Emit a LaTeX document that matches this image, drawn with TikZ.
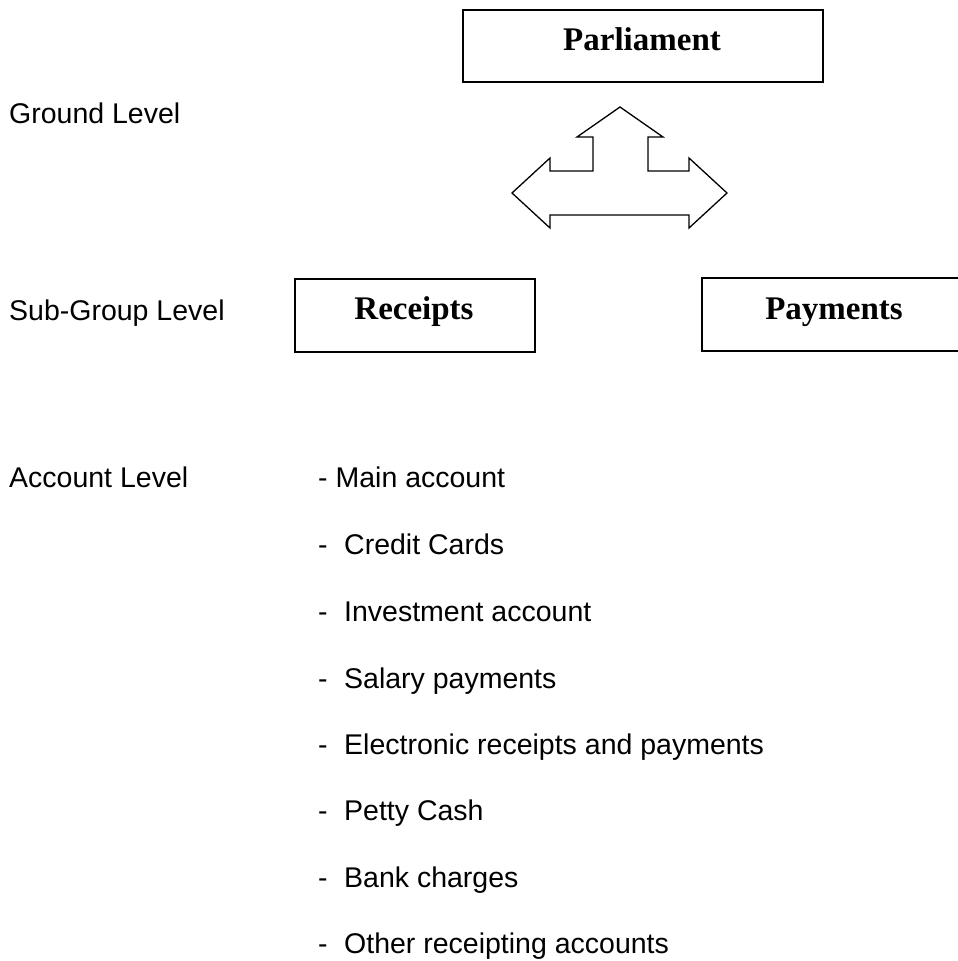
\documentclass[tikz,border=0pt]{standalone}
\usepackage{fontspec}
\setmainfont{Liberation Serif}
\newfontfamily\arialf{Liberation Sans}
\begin{document}
\begin{tikzpicture}[x=1pt,y=-1pt,
  lvl/.style={anchor=base west,inner sep=0pt,font=\arialf\fontsize{28.5}{34}\selectfont},
  item/.style={anchor=base west,inner sep=0pt,font=\arialf\fontsize{28.5}{34}\selectfont},
  boxline/.style={draw=black,line width=1.6pt},
  boxtext/.style={anchor=base,inner sep=0pt,font=\bfseries\fontsize{33}{38}\selectfont},
  arrowshape/.style={draw=black,line width=1.3pt,fill=white,line join=miter}]
\useasboundingbox (0,0) rectangle (958,961);
% boxes
\node[boxline,minimum width=360pt,minimum height=72pt,inner sep=0pt,anchor=north west] (parlbox) at (462,9) {};
\node[boxtext] (parl) at (642,50) {Parliament};
\node[boxline,minimum width=240pt,minimum height=73pt,inner sep=0pt,anchor=north west] (recbox) at (294,278) {};
\node[boxtext] (rec) at (414,319) {Receipts};
\draw[boxline] (958,278) -- (702,278) -- (702,351) -- (958,351);
\node[boxtext] (pay) at (834,319) {Payments};
% three-way arrow
\draw[arrowshape] (620,107) -- (663,137) -- (648,137) -- (648,171) -- (689,171) -- (689,158)
  -- (727,193) -- (689,228) -- (689,215) -- (550,215) -- (550,228) -- (512,193)
  -- (550,158) -- (550,171) -- (593,171) -- (593,137) -- (577,137) -- cycle;
% level labels
\node[lvl] (ground) at (9,123) {Ground Level};
\node[lvl] (subgroup) at (9,320) {Sub-Group Level};
\node[lvl] (account) at (9,487) {Account Level};
% account list
\node[item] (i1) at (318,487) {- Main account};
\foreach \y/\t [count=\k from 2] in {554/Credit Cards,621/Investment account,688/Salary payments,754/Electronic receipts and payments,820/Petty Cash,887/Bank charges,953/Other receipting accounts}{
  \node[item] (d\k) at (318,\y) {-};
  \node[item] (i\k) at (344,\y) {\t};
}
\end{tikzpicture}
\end{document}
